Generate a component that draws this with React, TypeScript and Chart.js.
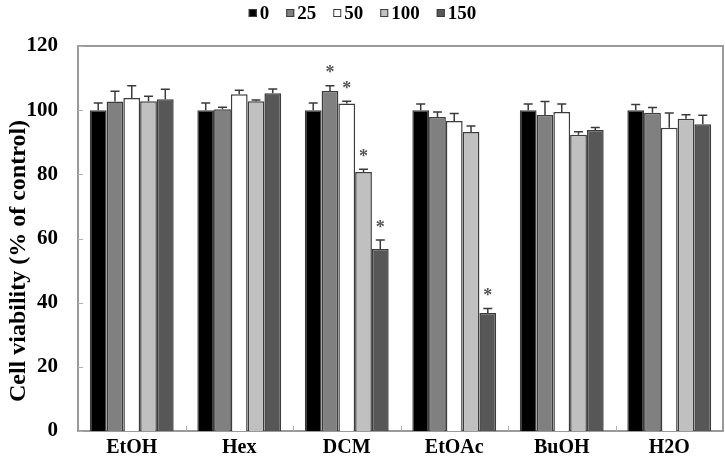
import React, { useEffect, useRef } from "react";
import { Chart, registerables } from "chart.js";

Chart.register(...registerables);

// Extract fractions and treatment concentrations
const extracts = ["EtOH", "Hex", "DCM", "EtOAc", "BuOH", "H2O"];
const doses = ["0", "25", "50", "100", "150"];

// Mean cell viability (% of control) for each dose, per extract
const mean0 = [100, 100, 100, 100, 100, 100];
const mean25 = [102.7, 100.3, 106.0, 97.9, 98.5, 99.2];
const mean50 = [103.8, 105.0, 102.1, 96.6, 99.4, 94.5];
const mean100 = [102.8, 102.8, 80.7, 93.2, 92.3, 97.3];
const mean150 = [103.4, 105.3, 56.7, 36.8, 93.8, 95.6];

// Standard deviations (upper error bars)
const sd0 = [2.2, 2.2, 2.2, 1.9, 1.9, 1.8];
const sd25 = [3.2, 0.6, 1.6, 1.5, 4.2, 1.6];
const sd50 = [3.8, 1.2, 0.7, 2.4, 2.5, 4.6];
const sd100 = [1.5, 0.4, 0.9, 1.9, 1.0, 1.3];
const sd150 = [3.1, 1.3, 2.8, 1.4, 0.8, 2.8];

// Significant difference vs. control
const sig0 = [false, false, false, false, false, false];
const sig25 = [false, false, true, false, false, false];
const sig50 = [false, false, true, false, false, false];
const sig100 = [false, false, true, false, false, false];
const sig150 = [false, false, true, true, false, false];

// Y axis ticks and title
const yTicks = [0, 20, 40, 60, 80, 100, 120];
const yTitle = "Cell viability (% of control)";

const fills = ["#000000", "#808080", "#ffffff", "#c0c0c0", "#575757"];
const means = [mean0, mean25, mean50, mean100, mean150];
const sds = [sd0, sd25, sd50, sd100, sd150];
const sigs = [sig0, sig25, sig50, sig100, sig150];

const SERIF = "'Liberation Serif', 'Times New Roman', serif";
const FRAME = "#9a9a9a";
const EDGE = "#3c3c3c";

const decorations = {
  id: "decorations",
  afterDatasetsDraw(chart: any) {
    const ctx = chart.ctx;
    const y = chart.scales.y;
    ctx.save();
    // error bars (upper only) and significance stars
    chart.data.datasets.forEach((ds: any, di: number) => {
      const meta = chart.getDatasetMeta(di);
      meta.data.forEach((bar: any, i: number) => {
        const v = ds.data[i];
        const top = y.getPixelForValue(v + ds.sd[i]);
        ctx.strokeStyle = "#3a3a3a";
        ctx.lineWidth = 1.5;
        ctx.beginPath();
        ctx.moveTo(bar.x, bar.y);
        ctx.lineTo(bar.x, top);
        ctx.moveTo(bar.x - 4.5, top);
        ctx.lineTo(bar.x + 4.5, top);
        ctx.stroke();
        if (ds.sig[i]) {
          ctx.fillStyle = "#555555";
          ctx.font = `bold 18px ${SERIF}`;
          ctx.textAlign = "center";
          ctx.textBaseline = "middle";
          ctx.fillText("*", bar.x, top - 12);
        }
      });
    });
    ctx.restore();
  },
  afterDraw(chart: any) {
    const ctx = chart.ctx;
    const a = chart.chartArea;
    const y = chart.scales.y;
    const x = chart.scales.x;
    ctx.save();
    // frame top and right
    ctx.strokeStyle = FRAME;
    ctx.lineWidth = 2;
    ctx.beginPath();
    ctx.moveTo(a.left - 1, a.top);
    ctx.lineTo(a.right, a.top);
    ctx.lineTo(a.right, a.bottom);
    ctx.stroke();
    // inward tick marks
    ctx.lineWidth = 1;
    ctx.strokeStyle = "#b0b0b0";
    ctx.beginPath();
    yTicks.forEach((t) => {
      const py = Math.round(y.getPixelForValue(t)) + 0.5;
      ctx.moveTo(a.left, py);
      ctx.lineTo(a.left + 5, py);
    });
    const n = chart.data.labels.length;
    for (let i = 1; i < n; i++) {
      const px = Math.round((x.getPixelForValue(i - 1) + x.getPixelForValue(i)) / 2) + 0.5;
      ctx.moveTo(px, a.bottom);
      ctx.lineTo(px, a.bottom - 5);
    }
    ctx.stroke();

    // y axis title
    ctx.save();
    ctx.translate(19, 261);
    ctx.rotate(-Math.PI / 2);
    ctx.font = `bold 24px ${SERIF}`;
    ctx.fillStyle = "#000";
    ctx.textAlign = "center";
    ctx.textBaseline = "middle";
    ctx.fillText(yTitle, 0, 0);
    ctx.restore();

    // legend
    ctx.font = `bold 19px ${SERIF}`;
    ctx.textBaseline = "middle";
    ctx.textAlign = "left";
    const box = 8;
    const gapBox = 3;
    const gapItem = 17;
    const widths = doses.map((d) => box + gapBox + ctx.measureText(d).width);
    const total = widths.reduce((s, w) => s + w, 0) + gapItem * (doses.length - 1);
    let lx = chart.width / 2 - total / 2;
    const ly = 13;
    doses.forEach((d, i) => {
      ctx.fillStyle = fills[i];
      ctx.fillRect(lx, ly - box / 2, box, box);
      ctx.strokeStyle = EDGE;
      ctx.lineWidth = 1;
      ctx.strokeRect(lx + 0.5, ly - box / 2 + 0.5, box - 1, box - 1);
      ctx.fillStyle = "#000";
      ctx.fillText(d, lx + box + gapBox, ly + 1);
      lx += widths[i] + gapItem;
    });
    ctx.restore();
  },
};

export default function App() {
  const ref = useRef<HTMLCanvasElement | null>(null);
  useEffect(() => {
    if (!ref.current) return;
    const chart = new Chart(ref.current, {
      type: "bar",
      data: {
        labels: extracts,
        datasets: doses.map((d, i) => ({
          label: d,
          data: means[i],
          sd: sds[i],
          sig: sigs[i],
          backgroundColor: fills[i],
          borderColor: EDGE,
          borderWidth: 1.5,
          categoryPercentage: 0.78,
          barPercentage: 1.0,
        })) as any,
      },
      options: {
        responsive: false,
        animation: false,
        devicePixelRatio: 1,
        layout: { padding: { top: 46, right: 2, left: 0, bottom: 0 } },
        plugins: { legend: { display: false }, tooltip: { enabled: false } },
        scales: {
          x: {
            grid: { display: false, drawTicks: false },
            border: { display: true, color: FRAME, width: 2 },
            ticks: { color: "#000", font: { family: SERIF, size: 20, weight: "bold" }, padding: 5 },
            afterFit: (s: any) => {
              s.height = 34;
            },
          },
          y: {
            min: 0,
            max: 120,
            afterBuildTicks: (s: any) => {
              s.ticks = yTicks.map((v) => ({ value: v }));
            },
            grid: { display: false, drawTicks: false },
            border: { display: true, color: FRAME, width: 2 },
            ticks: { color: "#000", font: { family: SERIF, size: 21, weight: "bold" }, padding: 20 },
            afterFit: (s: any) => {
              s.width = 78;
            },
          },
        },
      } as any,
      plugins: [decorations],
    });
    return () => chart.destroy();
  }, []);
  return (
    <div style={{ position: "fixed", left: 0, top: 0, width: 725, height: 465, background: "#fff" }}>
      <canvas ref={ref} width={725} height={465} />
    </div>
  );
}
